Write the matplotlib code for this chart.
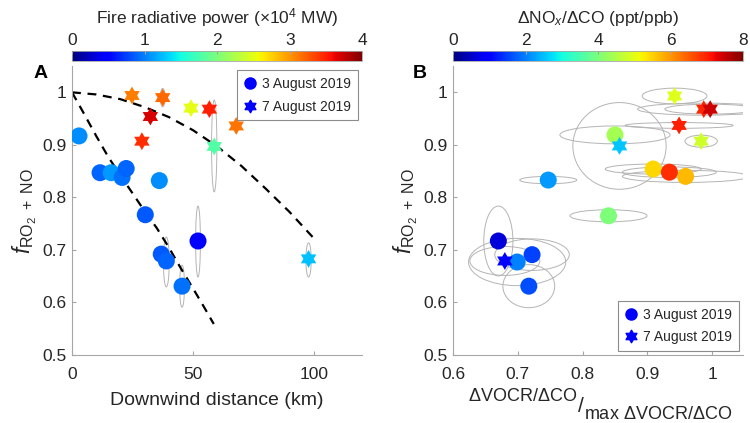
import numpy as np
import matplotlib
matplotlib.use("Agg")
import matplotlib.pyplot as plt
from matplotlib.path import Path
from matplotlib.patches import Ellipse
from matplotlib.lines import Line2D
from matplotlib.colors import Normalize
from matplotlib.ticker import FuncFormatter

plt.rcParams["font.family"] = ["Liberation Sans", "DejaVu Sans"]
plt.rcParams["mathtext.fontset"] = "custom"
plt.rcParams["mathtext.rm"] = "Liberation Sans"
plt.rcParams["mathtext.it"] = "Liberation Sans:italic"
plt.rcParams["mathtext.bf"] = "Liberation Sans:bold"

# ---------------------------------------------------
# panel A: f vs downwind distance, colour = FRP
# ---------------------------------------------------
aug3_dist = [2.9, 11.6, 16.2, 20.7, 22.4, 36.1, 30.3, 36.9, 39.0, 52.1, 45.5]
aug3_f = [0.917, 0.847, 0.847, 0.838, 0.855, 0.832, 0.767, 0.692, 0.679, 0.717, 0.631]
aug3_frp = [1.05, 0.9, 1.1, 0.95, 0.9, 1.05, 0.85, 0.85, 0.9, 0.45, 0.95]

aug7_dist = [24.8, 37.5, 32.4, 49.2, 56.8, 67.9, 28.9, 58.8, 97.8]
aug7_f = [0.994, 0.99, 0.954, 0.97, 0.968, 0.936, 0.907, 0.897, 0.683]
aug7_frp = [3.1, 3.2, 3.7, 2.5, 3.5, 3.15, 3.45, 1.8, 1.25]

# uncertainty ellipses (centre, full width, full height)
errA_x = [58.8, 52.1, 39.0, 45.5, 97.8, 37.5]
errA_y = [0.898, 0.716, 0.677, 0.631, 0.681, 0.99]
errA_w = [2.2, 2.0, 2.4, 2.0, 2.2, 2.0]
errA_h = [0.175, 0.135, 0.095, 0.08, 0.065, 0.035]

# dashed fit curves
fit1_x = [0, 10, 20, 30, 40, 50, 60, 70, 80, 90, 100]
fit1_y = [1.0, 0.996, 0.987, 0.972, 0.953, 0.928, 0.897, 0.86, 0.817, 0.772, 0.722]
fit2_x = [0, 5, 10, 15, 20, 25, 30, 35, 40, 45, 50, 55, 58.6]
fit2_y = [1.0, 0.959, 0.917, 0.877, 0.842, 0.808, 0.774, 0.742, 0.705, 0.665, 0.627, 0.588, 0.559]

# ---------------------------------------------------
# panel B: f vs normalised VOCR/CO, colour = NOx/CO
# ---------------------------------------------------
b_aug3_x = [0.850, 0.909, 0.959, 0.934, 0.747, 0.840, 0.670, 0.722, 0.699, 0.717]
b_aug3_f = [0.919, 0.854, 0.840, 0.848, 0.833, 0.765, 0.717, 0.691, 0.677, 0.631]
b_aug3_nox = [4.4, 5.45, 5.7, 6.9, 2.2, 4.0, 0.65, 1.5, 2.0, 1.6]
b_aug3_w = [0.170, 0.148, 0.195, 0.145, 0.088, 0.119, 0.045, 0.115, 0.15, 0.08]
b_aug3_h = [0.034, 0.019, 0.023, 0.02, 0.014, 0.023, 0.133, 0.06, 0.09, 0.082]

b_aug7_x = [0.857, 0.983, 0.680, 0.942, 0.987, 0.997, 0.949]
b_aug7_f = [0.898, 0.907, 0.679, 0.993, 0.968, 0.968, 0.937]
b_aug7_nox = [2.55, 4.8, 1.0, 4.95, 6.95, 7.45, 7.0]
b_aug7_w = [0.144, 0.05, 0.108, 0.10, 0.204, 0.14, 0.167]
b_aug7_h = [0.165, 0.023, 0.055, 0.03, 0.023, 0.019, 0.011]

legend_labels = ["3 August 2019", "7 August 2019"]

HEXAGRAM = Path.unit_regular_star(6, innerCircle=1 / np.sqrt(3))
GREY = "#a6a6a6"
TXT = "#262626"
CMAP = plt.get_cmap("jet")
YLABEL = r"$\mathit{f}_{\mathrm{RO_2\ +\ NO}}$"

fig = plt.figure(figsize=(7.5, 4.23), dpi=100)


def style_axes(ax):
    for s in ["top", "right"]:
        ax.spines[s].set_visible(False)
    for s in ["left", "bottom"]:
        ax.spines[s].set_color(GREY)
        ax.spines[s].set_linewidth(0.8)
    ax.tick_params(direction="in", length=3, color=GREY, labelsize=12.5,
                   labelcolor=TXT)
    ax.tick_params(axis="x", pad=9)
    ax.tick_params(axis="y", pad=4)
    ax.yaxis.set_major_formatter(FuncFormatter(lambda v, p: f"{v:g}"))
    ax.xaxis.set_major_formatter(FuncFormatter(lambda v, p: f"{v:g}"))


def add_colorbar(sc, left, ticks, label):
    cax = fig.add_axes([left, 0.856, 0.387, 0.0236])
    cb = fig.colorbar(sc, cax=cax, orientation="horizontal", ticks=ticks)
    cax.xaxis.set_ticks_position("top")
    cax.xaxis.set_label_position("top")
    cax.tick_params(direction="in", length=2.5, color=GREY, labelsize=12.5,
                    labelcolor=TXT, pad=2)
    cb.outline.set_edgecolor(GREY)
    cb.outline.set_linewidth(0.6)
    cb.set_label(label, fontsize=12.5, color=TXT, labelpad=7)
    return cb


def add_legend(ax, loc):
    handles = [
        Line2D([], [], ls="none", marker="o", color="#0000ff", markersize=8),
        Line2D([], [], ls="none", marker=HEXAGRAM, color="#0000ff", markersize=9),
    ]
    leg = ax.legend(handles, legend_labels, loc=loc, fontsize=10, frameon=True,
                    fancybox=False, framealpha=1, edgecolor="#8c8c8c",
                    handlelength=0.8, handletextpad=0.5, borderaxespad=0.3,
                    labelspacing=0.6, borderpad=0.5)
    leg.get_frame().set_linewidth(0.8)
    for t in leg.get_texts():
        t.set_color(TXT)


# ---------------- panel A ----------------
axA = fig.add_axes([0.096, 0.1608, 0.387, 0.683])
style_axes(axA)
for x, y, w, h in zip(errA_x, errA_y, errA_w, errA_h):
    axA.add_patch(Ellipse((x, y), w, h, fill=False, ec="#b4b4b4", lw=0.7, zorder=1))
axA.plot(fit1_x, fit1_y, ls=(0, (4, 3)), color="k", lw=1.6, zorder=2)
axA.plot(fit2_x, fit2_y, ls=(0, (4, 3)), color="k", lw=1.6, zorder=2)
normA = Normalize(0, 4)
scA = axA.scatter(aug3_dist, aug3_f, c=aug3_frp, cmap=CMAP, norm=normA,
                  s=150, marker="o", linewidths=0, zorder=3)
axA.scatter(aug7_dist, aug7_f, c=aug7_frp, cmap=CMAP, norm=normA,
            s=165, marker=HEXAGRAM, linewidths=0, zorder=3)
axA.set_xlim(0, 120)
axA.set_ylim(0.5, 1.05)
axA.set_xticks([0, 50, 100])
axA.set_yticks([0.5, 0.6, 0.7, 0.8, 0.9, 1.0])
axA.set_xlabel("Downwind distance (km)", fontsize=14, color=TXT, labelpad=7)
axA.set_ylabel(YLABEL, fontsize=16.5, color=TXT, labelpad=2)
add_legend(axA, "upper right")
add_colorbar(scA, 0.096, [0, 1, 2, 3, 4], r"Fire radiative power ($\times$10$^4$ MW)")
fig.text(0.054, 0.826, "A", fontsize=14, fontweight="bold", ha="center", va="center")

# ---------------- panel B ----------------
axB = fig.add_axes([0.604, 0.1608, 0.387, 0.683])
style_axes(axB)
for x, y, w, h in zip(b_aug3_x + b_aug7_x, b_aug3_f + b_aug7_f,
                      b_aug3_w + b_aug7_w, b_aug3_h + b_aug7_h):
    axB.add_patch(Ellipse((x, y), w, h, fill=False, ec="#b4b4b4", lw=0.7, zorder=1))
normB = Normalize(0, 8)
scB = axB.scatter(b_aug3_x, b_aug3_f, c=b_aug3_nox, cmap=CMAP, norm=normB,
                  s=150, marker="o", linewidths=0, zorder=3)
axB.scatter(b_aug7_x, b_aug7_f, c=b_aug7_nox, cmap=CMAP, norm=normB,
            s=165, marker=HEXAGRAM, linewidths=0, zorder=3)
axB.set_xlim(0.6, 1.048)
axB.set_ylim(0.5, 1.05)
axB.set_xticks([0.6, 0.7, 0.8, 0.9, 1.0])
axB.set_yticks([0.5, 0.6, 0.7, 0.8, 0.9, 1.0])
axB.set_ylabel(YLABEL, fontsize=16.5, color=TXT, labelpad=2)
add_legend(axB, "lower right")
add_colorbar(scB, 0.604, [0, 2, 4, 6, 8], r"$\Delta$NO$_{\mathit{x}}$/$\Delta$CO (ppt/ppb)")
fig.text(0.56, 0.826, "B", fontsize=14, fontweight="bold", ha="center", va="center")

# two-level x label of panel B
fig.text(0.770, 1 - 396 / 423, r"$\Delta$VOCR/$\Delta$CO", fontsize=13, color=TXT,
         ha="right", va="center")
fig.text(0.7745, 1 - 406 / 423, "/", fontsize=15, color=TXT, ha="center", va="center")
fig.text(0.779, 1 - 414 / 423, r"max $\Delta$VOCR/$\Delta$CO", fontsize=13, color=TXT,
         ha="left", va="center")

fig.savefig("out.png", dpi=100)
